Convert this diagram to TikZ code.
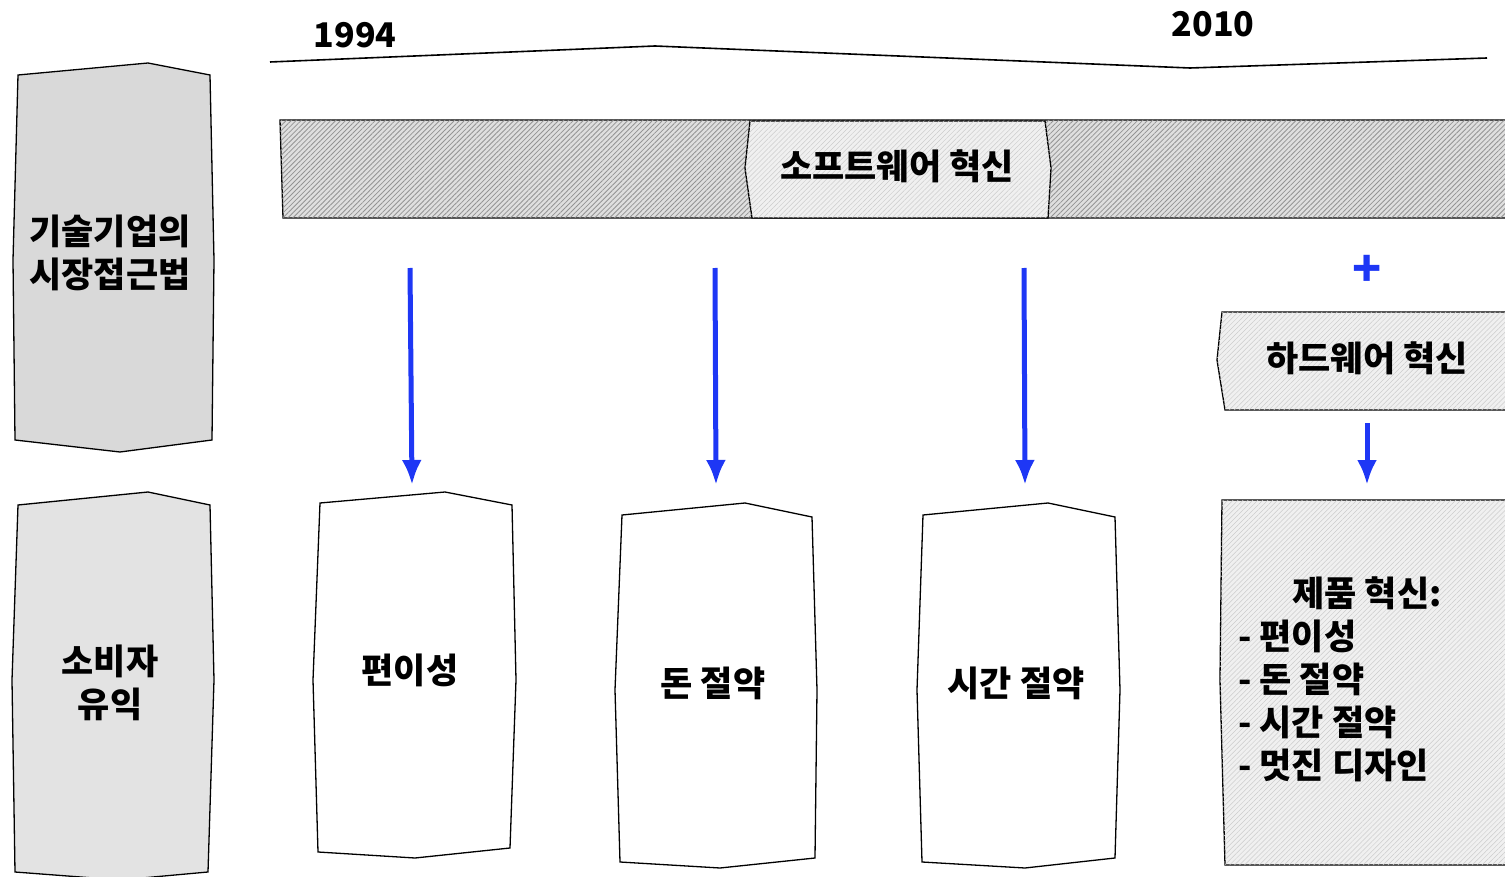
\documentclass[tikz,border=0pt]{standalone}
\usepackage{fontspec}
\setmainfont{Noto Sans CJK KR}
\usetikzlibrary{arrows.meta,patterns.meta}
\definecolor{flowblue}{RGB}{30,55,245}

\begin{document}
\begin{tikzpicture}[x=1pt,y=-1pt,>={Latex[length=25pt,width=20pt]},
  lbl/.style={font=\bfseries\fontsize{35}{43}\selectfont,align=center,inner sep=0pt},
  yr/.style={font=\bfseries\fontsize{34}{40}\selectfont,inner sep=0pt},
  panel/.style={draw=black,line width=1.3pt,fill=gray!30},
  card/.style={draw=black,line width=1.3pt,fill=white},
  hatch/.style={draw=black,line width=1.3pt,fill=gray!25,
    postaction={pattern={Lines[angle=45,distance=3.5pt,line width=0.8pt]},pattern color=gray!85}},
  hatchlight/.style={draw=black,line width=1.3pt,fill=gray!12,
    postaction={pattern={Lines[angle=45,distance=3.5pt,line width=0.5pt]},pattern color=gray!40}},
  flow/.style={->,draw=flowblue,line width=5pt},
  tline/.style={draw=black,line width=1.6pt}]

\useasboundingbox (0,0) rectangle (1505,877);

% timeline
\node[yr] (y_start) at (355,35) {1994};
\node[yr] (y_end) at (1213,24) {2010};
\draw[tline] (270,62) -- (655,46) -- (1190,68) -- (1487,58);

% row headers
\draw[panel] (18,75) -- (148,63) -- (210,75) -- (214,260) -- (212,440)
  -- (120,452) -- (15,440) -- (13,260) -- cycle;
\node[lbl] (approach) at (110,253) {기술기업의\\시장접근법};

\draw[panel,fill=gray!22] (18,505) -- (148,492) -- (210,505) -- (214,680) -- (208,872)
  -- (120,880) -- (15,872) -- (12,680) -- cycle;
\node[lbl] (benefit) at (110,683) {소비자\\유익};

% software band
\draw[hatch] (280,120) -- (1510,120) -- (1510,218) -- (283,218) -- cycle;
\draw[hatchlight] (750,121) -- (1045,121) -- (1051,168) -- (1048,218)
  -- (752,218) -- (745,168) -- cycle;
\node[lbl] (sw) at (897,166) {소프트웨어 혁신};

% benefit cards
\draw[card] (320,503) -- (445,492) -- (512,505) -- (516,680) -- (510,848)
  -- (415,858) -- (318,852) -- (313,680) -- cycle;
\node[lbl] (conv) at (410,670) {편이성};

\draw[card] (622,515) -- (745,503) -- (812,517) -- (817,690) -- (815,858)
  -- (720,868) -- (620,862) -- (615,690) -- cycle;
\node[lbl] (money) at (713,683) {돈 절약};

\draw[card] (923,515) -- (1048,503) -- (1115,517) -- (1120,690) -- (1115,858)
  -- (1025,868) -- (922,862) -- (917,690) -- cycle;
\node[lbl] (time) at (1016,683) {시간 절약};

% hardware
\node[font=\bfseries\fontsize{48}{48}\selectfont,text=flowblue,inner sep=0pt] (plus) at (1367,271) {+};
\draw[hatchlight] (1222,312) -- (1510,312) -- (1510,410) -- (1225,410)
  -- (1217,360) -- cycle;
\node[lbl] (hw) at (1367,358) {하드웨어 혁신};

\draw[hatchlight] (1222,500) -- (1510,500) -- (1510,865) -- (1225,865)
  -- (1220,680) -- cycle;
\node[lbl] (prod_title) at (1367,593) {제품 혁신:};
\node[lbl,align=left,anchor=west] (prod_list) at (1238,701)
  {- 편이성\\- 돈 절약\\- 시간 절약\\- 멋진 디자인};

% arrows
\coordinate (src_1) at (410,268);
\coordinate (dst_1) at (412,485);
\coordinate (src_2) at (715,268);
\coordinate (dst_2) at (716,485);
\coordinate (src_3) at (1024,268);
\coordinate (dst_3) at (1025,485);
\coordinate (src_4) at (1367,423);
\coordinate (dst_4) at (1367,485);
\foreach \i in {1,...,4}
  \draw[flow] (src_\i) -- (dst_\i);

\end{tikzpicture}
\end{document}
